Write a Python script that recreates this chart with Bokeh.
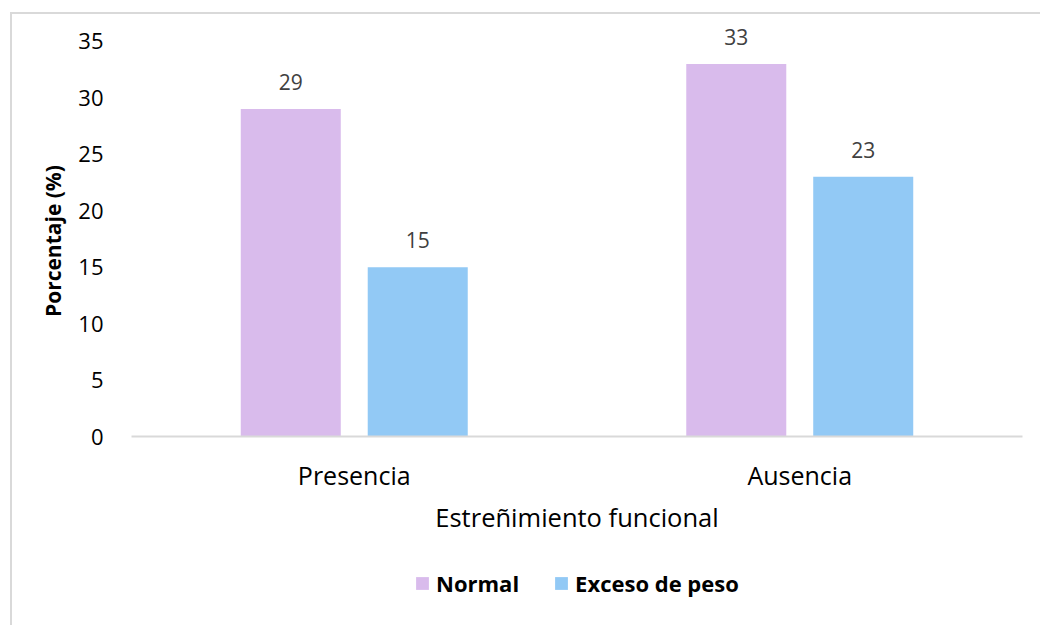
from bokeh.plotting import figure
from bokeh.layouts import column
from bokeh.models import ColumnDataSource, Legend, LegendItem, FixedTicker, Range1d
from bokeh.transform import dodge
from bokeh.core.properties import value
from bokeh.embed import file_html
from bokeh.resources import INLINE

categories = ["Presencia", "Ausencia"]
normal = [29, 33]
exceso = [15, 23]
series_names = ["Normal", "Exceso de peso"]
y_ticks = [0, 5, 10, 15, 20, 25, 30, 35]

FONT = "Open Sans"
C_NORMAL = "#D9BBEC"
C_EXCESO = "#92C9F5"

src = ColumnDataSource(dict(cat=categories, normal=normal, exceso=exceso,
                            nlab=[str(v) for v in normal], elab=[str(v) for v in exceso]))

p = figure(width=1040, height=560, x_range=categories, y_range=Range1d(0, 38),
           output_backend="svg", toolbar_location=None,
           min_border_left=131, min_border_right=18, min_border_top=7, min_border_bottom=124)
p.outline_line_color = None
p.border_fill_color = None
p.background_fill_color = None
p.xgrid.grid_line_color = None
p.ygrid.grid_line_color = None
p.x_range.range_padding = 0

p.vbar(x=dodge("cat", -0.1425, range=p.x_range), top="normal", width=0.2245,
       source=src, fill_color=C_NORMAL, line_color=None)
p.vbar(x=dodge("cat", 0.1425, range=p.x_range), top="exceso", width=0.2245,
       source=src, fill_color=C_EXCESO, line_color=None)

for col, off in (("nlab", -0.1425), ("elab", 0.1425)):
    ycol = "normal" if col == "nlab" else "exceso"
    p.text(x=dodge("cat", off, range=p.x_range), y=ycol, text=col, source=src,
           text_align="center", text_baseline="alphabetic", y_offset=-27,
           text_font=value(FONT), text_font_size="21px", text_color="#404040")

# axes
p.yaxis.ticker = FixedTicker(ticks=y_ticks)
p.yaxis.axis_line_color = None
p.yaxis.major_tick_line_color = None
p.yaxis.minor_tick_line_color = None
p.yaxis.major_label_text_font = FONT
p.yaxis.major_label_text_font_size = "22px"
p.yaxis.major_label_text_color = "#000000"
p.yaxis.major_label_standoff = 22
p.yaxis.axis_label = "Porcentaje (%)" + "\u00a0" * 7
p.yaxis.axis_label_text_font = FONT
p.yaxis.axis_label_text_font_style = "bold"
p.yaxis.axis_label_text_font_size = "21px"
p.yaxis.axis_label_text_color = "#000000"
p.yaxis.axis_label_standoff = 8

p.xaxis.axis_line_color = "#D9D9D9"
p.xaxis.axis_line_width = 2
p.xaxis.major_tick_line_color = None
p.xaxis.minor_tick_line_color = None
p.xaxis.major_label_text_font = FONT
p.xaxis.major_label_text_font_size = "25px"
p.xaxis.major_label_text_color = "#000000"
p.xaxis.major_label_standoff = 15
p.xaxis.axis_label = "Estreñimiento funcional"
p.xaxis.axis_label_text_font = FONT
p.xaxis.axis_label_text_font_style = "normal"
p.xaxis.axis_label_text_font_size = "25.5px"
p.xaxis.axis_label_text_color = "#000000"
p.xaxis.axis_label_standoff = 5

# legend figure
lg = figure(width=1040, height=65, x_range=Range1d(0, 1), y_range=Range1d(0, 1),
            output_backend="svg", toolbar_location=None,
            min_border_left=0, min_border_right=0, min_border_top=0, min_border_bottom=0)
lg.axis.visible = False
lg.grid.visible = False
lg.outline_line_color = None
lg.border_fill_color = None
lg.background_fill_color = None
hidden = dict(x=[5], top=[0])
lr1 = lg.vbar(x="x", top="top", width=0.1, source=ColumnDataSource(hidden),
              fill_color=C_NORMAL, line_color=None)
lr2 = lg.vbar(x="x", top="top", width=0.1, source=ColumnDataSource(hidden),
              fill_color=C_EXCESO, line_color=None)

legend = Legend(items=[LegendItem(label=series_names[0], renderers=[lr1]),
                       LegendItem(label=series_names[1], renderers=[lr2])],
                orientation="horizontal", location=(283, 27))
legend.label_text_font = FONT
legend.label_text_font_style = "bold"
legend.label_text_font_size = "22px"
legend.label_text_color = "#000000"
legend.glyph_width = 16
legend.glyph_height = 16
legend.label_standoff = 6
legend.spacing = 34
legend.padding = 0
legend.margin = 0
legend.border_line_color = None
legend.background_fill_alpha = 0
lg.add_layout(legend, "center")

layout = column(p, lg, spacing=0)
layout.styles = {
    "background": "linear-gradient(#D9D9D9,#D9D9D9) 10px 12px / 2px 100% no-repeat, "
                  "linear-gradient(#D9D9D9,#D9D9D9) 10px 12px / 100% 2px no-repeat, #FFFFFF"
}

open("out.html", "w").write(file_html(layout, INLINE))
